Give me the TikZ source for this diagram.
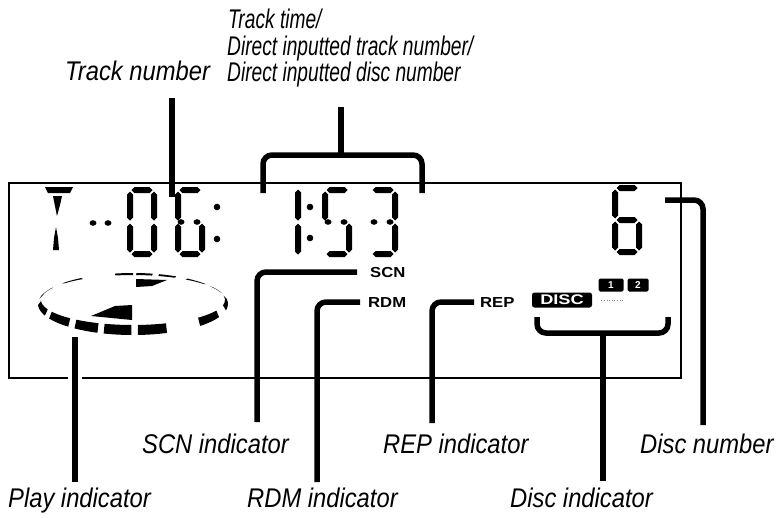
\documentclass[tikz,border=0pt]{standalone}
\usepackage{fontspec}
\setmainfont{Liberation Sans}
\newfontfamily\labelfont{Liberation Sans}[FakeStretch=0.88]
\newfontfamily\toplabelfont{Liberation Sans}[FakeStretch=0.71]
\newfontfamily\indfont{Liberation Sans}[FakeStretch=1.15]
\newfontfamily\discfont{Liberation Sans}[FakeStretch=1.3]
\newcommand\segH[3]{\fill (#2+1.5,#1) -- (#2+4.5,#1-3) -- (#3-4.5,#1-3) -- (#3-1.5,#1) -- (#3-4.5,#1+3) -- (#2+4.5,#1+3) -- cycle;}
\newcommand\segV[3]{\fill (#1,#2+1.5) -- (#1+3,#2+4.5) -- (#1+3,#3-4.5) -- (#1,#3-1.5) -- (#1-3,#3-4.5) -- (#1-3,#2+4.5) -- cycle;}
\newcommand\dsega{\segH{3}{3}{27}}
\newcommand\dsegg{\segH{35}{3}{27}}
\newcommand\dsegd{\segH{67}{3}{27}}
\newcommand\dsegf{\segV{3}{3}{35}}
\newcommand\dsegb{\segV{27}{3}{35}}
\newcommand\dsege{\segV{3}{35}{67}}
\newcommand\dsegc{\segV{27}{35}{67}}
\newcommand\dsegm{\fill (6,35) ellipse[x radius=3.5, y radius=2.8]; \fill (22,35) ellipse[x radius=3.5, y radius=2.8];}
\newcommand\sevenseg[3]{\begin{scope}[shift={(#1,#2)}]\foreach \s in {#3}{\csname dseg\s\endcsname}\end{scope}}
\begin{document}
\begin{tikzpicture}[x=1pt,y=-1pt,
  leader/.style={line width=5.5pt, rounded corners=9pt},
  frame/.style={line width=1.6pt},
  lbl/.style={anchor=base west, inner sep=0pt, font=\labelfont\itshape\fontsize{27}{28}\selectfont},
  toplbl/.style={anchor=base west, inner sep=0pt, font=\toplabelfont\itshape\fontsize{27}{28}\selectfont},
  ind/.style={anchor=base west, inner sep=0pt, font=\indfont\bfseries\fontsize{14.5}{15}\selectfont},
  chip/.style={fill=black, text=white, inner sep=0pt, rounded corners=1.5pt}]
\useasboundingbox (0,0) rectangle (783,517);
\fill[white] (0,0) rectangle (783,517);
% display frame
\draw[frame] (9,183) rectangle (681,378);
% T
\fill (45,187) -- (73,187) -- (70,193) -- (48,193) -- cycle;
\fill (53,196) -- (62,196) -- (60,205) -- (57,216) -- cycle;
\fill (56,227) -- (58,238) -- (59,250) -- (53,250) -- (54,238) -- cycle;
\fill (93,223) ellipse[x radius=3.5, y radius=2.8];
\fill (108,223) ellipse[x radius=3.5, y radius=2.8];
% 06:
\sevenseg{127}{187}{a,b,c,d,e,f}
\sevenseg{175}{187}{a,f,m,e,d,c}
\fill (217,207) circle[radius=3.3];
\fill (217,239) circle[radius=3.3];
% 1:53
\segV{298}{188}{222}
\segV{298}{222}{256}
\fill (310,207) circle[radius=3.3];
\fill (310,238) circle[radius=3.3];
\sevenseg{322}{187}{a,f,m,c,d}
\sevenseg{368}{187}{a,b,m,c,d}
% disc number 6
\sevenseg{612}{185}{a,f,g,e,d,c}
% play indicator ring
\foreach \a/\b in {69/87, 91/108, 112/128, 133/152, 158/178, 190/210, 222/237, 259/270, 272/282, 286/297, 305/320, 327/340, 350/372, 385/405}
  \fill ([shift={(\a:95 and 31)}]133,304) arc[start angle=\a, end angle=\b, x radius=95, y radius=31]
     -- ([shift={(\b:92 and 25)}]133,300) arc[start angle=\b, end angle=\a, x radius=92, y radius=25] -- cycle;
\fill (91,316) -- (115,306) -- (132,305) -- (132,320) -- cycle;
\fill (136,279) -- (167,280) -- (152,286) -- (136,287) -- cycle;
% indicators
\node[ind] (scn) at (370,277) {SCN};
\node[ind] (rdm) at (368,307) {RDM};
\node[ind] (rep) at (480,307) {REP};
\node[chip, rounded corners=2.5pt, minimum width=60pt, minimum height=15pt, font=\discfont\bfseries\fontsize{14}{14}\selectfont] (disc) at (562,300) {DISC};
\node[chip, minimum width=25pt, minimum height=13pt, font=\bfseries\fontsize{10}{10}\selectfont] (d1) at (611,285) {1};
\node[chip, minimum width=21pt, minimum height=13pt, font=\bfseries\fontsize{10}{10}\selectfont] (d2) at (638,285) {2};
\draw[gray, dotted, line width=0.6pt] (d1.south west) ++(3,9) -- ++(22,0);
% labels
\node[lbl] (lTrackNo) at (65,80) {Track number};
\node[toplbl] (lTime1) at (228,28) {Track time/};
\node[toplbl] (lTime2) at (227,55) {Direct inputted track number/};
\node[toplbl] (lTime3) at (227,81) {Direct inputted disc number};
\node[lbl] (lScn) at (142,453) {SCN indicator};
\node[lbl] (lRep) at (383,453) {REP indicator};
\node[lbl] (lDiscNo) at (640,453) {Disc number};
\node[lbl] (lPlay) at (8,507) {Play indicator};
\node[lbl] (lRdm) at (247,507) {RDM indicator};
\node[lbl] (lDiscInd) at (510,507) {Disc indicator};
% leader end points
\coordinate (tnA) at (172,98);   \coordinate (tnB) at (172,197);
\coordinate (ttA) at (341,107);  \coordinate (ttB) at (341,155);
\coordinate (ttL) at (263,193);  \coordinate (ttR) at (422,193);
\coordinate (scnA) at ([xshift=-13pt]scn.west); \coordinate (scnB) at (257,422);
\coordinate (rdmA) at ([xshift=-8pt]rdm.west);  \coordinate (rdmB) at (317,482);
\coordinate (repA) at ([xshift=-6pt]rep.west);  \coordinate (repB) at (432,423);
\coordinate (dnA) at (665,200);  \coordinate (dnB) at (703,425);
\coordinate (diL) at (537,317);  \coordinate (diR) at (668,317);
\coordinate (diM) at (603,333);  \coordinate (diB) at (603,481);
\coordinate (plA) at (75,337);   \coordinate (plB) at (75,482);
% leaders
\draw[leader] (tnA) -- (tnB);
\draw[leader] (ttA) -- (ttB);
\draw[leader] (ttL) |- (ttB) -| (ttR);
\draw[leader] (scnA) -| (scnB);
\draw[leader] (rdmA) -| (rdmB);
\draw[leader] (repA) -| (repB);
\draw[leader] (dnA) -| (dnB);
\draw[leader] (diL) |- (diM) -| (diR);
\draw[leader] (diM) -- (diB);
\draw[white, line width=14pt] (75,372) -- (75,385);
\draw[leader] (plA) -- (plB);
\end{tikzpicture}
\end{document}
